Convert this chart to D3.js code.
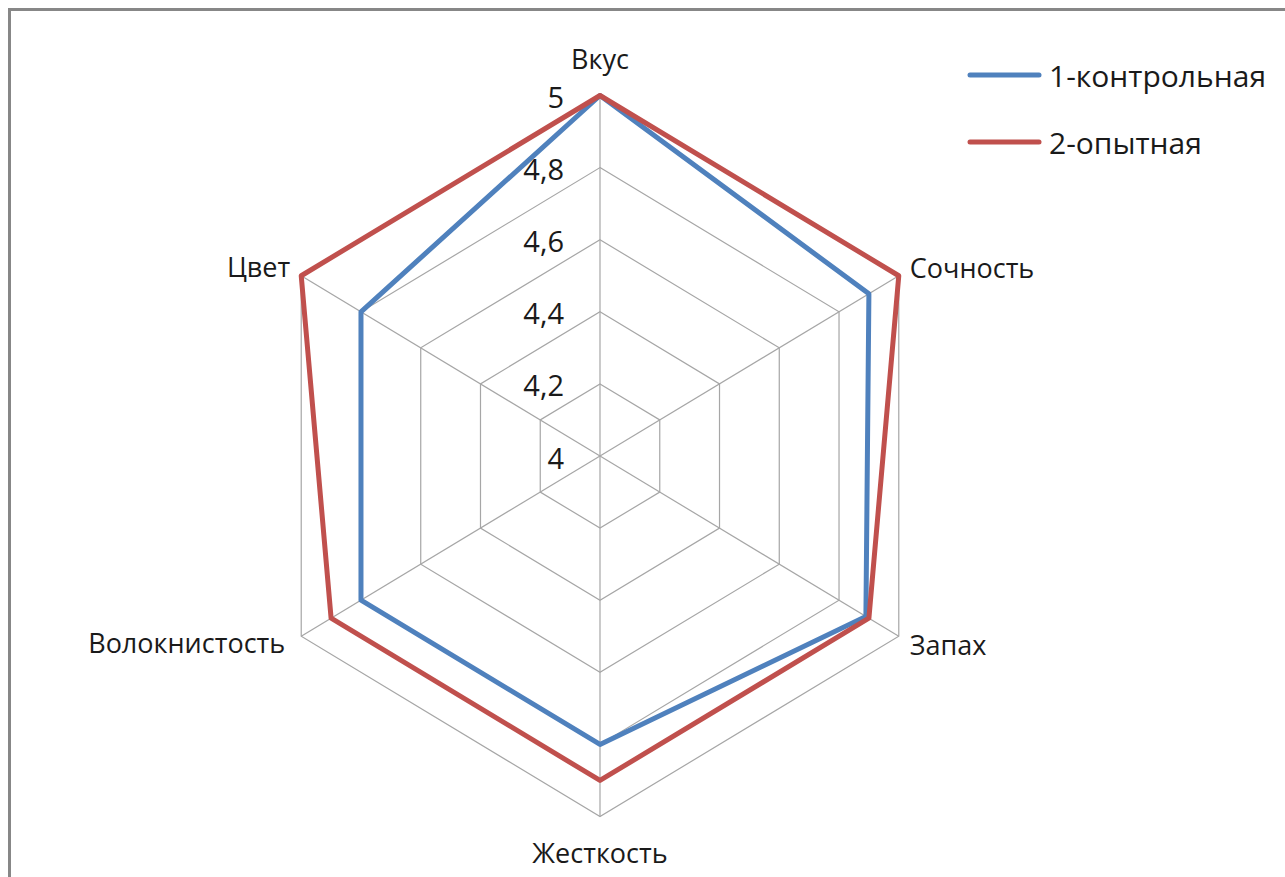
<!DOCTYPE html>
<html>
<head>
<meta charset="utf-8">
<script src="https://cdn.jsdelivr.net/npm/d3@7"></script>
<style>
  html, body { margin: 0; padding: 0; background: #fff; }
  svg { display: block; }
  text { font-family: "Open Sans", Lato, sans-serif; fill: #1a1a1a; }
</style>
</head>
<body>
<svg id="chart" width="1285" height="877"></svg>
<script>
const categories = ["Вкус", "Сочность", "Запах", "Жесткость", "Волокнистость", "Цвет"];
const series1Name = "1-контрольная";
const series1Values = [5, 4.9, 4.89, 4.8, 4.8, 4.8];
const series2Name = "2-опытная";
const series2Values = [5, 5, 4.9, 4.9, 4.9, 5];
const tickValues = [4, 4.2, 4.4, 4.6, 4.8, 5];
const tickLabels = ["4", "4,2", "4,4", "4,6", "4,8", "5"];

const svg = d3.select("#chart");
const W = 1285, H = 877;
const cx = 600, cy = 456, R = 360.5, kx = 0.957;

// frame
svg.append("rect").attr("x", 9.5).attr("y", 9.5).attr("width", W + 20).attr("height", H + 20)
  .attr("fill", "#fff").attr("stroke", "#878787").attr("stroke-width", 3);

const r = d3.scaleLinear().domain([4, 5]).range([0, R]);
const angle = d3.scalePoint().domain(categories.concat(["_end"])).range([0, 2 * Math.PI]);
function pt(cat, v) {
  const a = angle(cat);
  return [cx + r(v) * Math.sin(a) * kx, cy - r(v) * Math.cos(a)];
}

const g = svg.append("g");
// rings
tickValues.filter(v => v > 4).forEach(v => {
  g.append("polygon")
    .attr("points", categories.map(c => pt(c, v).join(",")).join(" "))
    .attr("fill", "none").attr("stroke", "#a6a6a6").attr("stroke-width", 1.2);
});
// spokes
categories.forEach(c => {
  const p = pt(c, 5);
  g.append("line").attr("x1", cx).attr("y1", cy).attr("x2", p[0]).attr("y2", p[1])
    .attr("stroke", "#a6a6a6").attr("stroke-width", 1.2);
});

// tick labels
tickValues.forEach((v, i) => {
  g.append("text").attr("x", cx - 36).attr("y", cy - r(v) + 1)
    .attr("text-anchor", "end").attr("dominant-baseline", "central")
    .attr("font-size", 29).text(tickLabels[i]);
});

// series
const line = d3.line().curve(d3.curveLinearClosed);
const series = [
  { name: series1Name, values: series1Values, color: "#4f81bd" },
  { name: series2Name, values: series2Values, color: "#c0504d" }
];
series.forEach(s => {
  g.append("path")
    .attr("d", line(categories.map((c, i) => pt(c, s.values[i]))))
    .attr("fill", "none").attr("stroke", s.color).attr("stroke-width", 5)
    .attr("stroke-linejoin", "round");
});

// category labels
const labelOffsets = {
  "Вкус": [0, -37, "middle"],
  "Сочность": [11, -8, "start"],
  "Запах": [11, 8, "start"],
  "Жесткость": [0, 36, "middle"],
  "Волокнистость": [-16, 6, "end"],
  "Цвет": [-11, -9, "end"]
};
categories.forEach(c => {
  const p = pt(c, 5);
  const o = labelOffsets[c];
  g.append("text").attr("x", p[0] + o[0]).attr("y", p[1] + o[1])
    .attr("text-anchor", o[2]).attr("dominant-baseline", "central")
    .attr("font-size", 27).text(c);
});

// legend
series.forEach((s, i) => {
  const y = 75 + i * 67;
  svg.append("line").attr("x1", 970).attr("x2", 1039).attr("y1", y).attr("y2", y)
    .attr("stroke", s.color).attr("stroke-width", 5).attr("stroke-linecap", "round");
  svg.append("text").attr("x", 1049).attr("y", y).attr("dominant-baseline", "central")
    .attr("font-size", 30).text(s.name);
});
</script>
</body>
</html>
